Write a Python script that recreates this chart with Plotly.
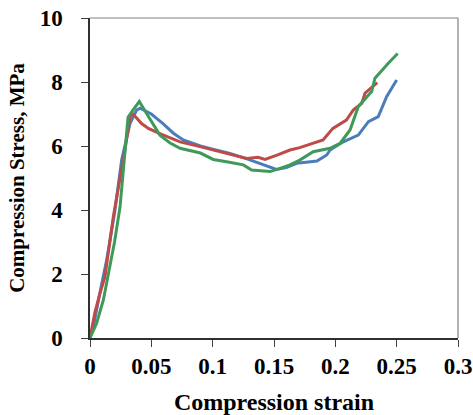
import plotly.graph_objects as go

blue_x = [0.0, 0.0027, 0.0080, 0.0136, 0.0200, 0.0258, 0.0326, 0.0380, 0.0408, 0.0500, 0.0595, 0.0680, 0.0760, 0.0900, 0.1000, 0.1140, 0.1280, 0.1410, 0.1520, 0.1600, 0.1685, 0.1780, 0.1850, 0.1930, 0.1957, 0.2065, 0.2187, 0.2270, 0.2350, 0.2418, 0.2500]
blue_y = [0.0, 0.35, 1.40, 2.44, 3.90, 5.56, 6.70, 7.12, 7.18, 7.00, 6.70, 6.40, 6.19, 6.00, 5.90, 5.77, 5.60, 5.41, 5.27, 5.33, 5.46, 5.50, 5.53, 5.72, 5.875, 6.13, 6.34, 6.76, 6.92, 7.54, 8.06]

red_x = [0.0, 0.0040, 0.0082, 0.0122, 0.0190, 0.0240, 0.0285, 0.0326, 0.0353, 0.0420, 0.0476, 0.0560, 0.0734, 0.0897, 0.1005, 0.1150, 0.1277, 0.1370, 0.1427, 0.1530, 0.1630, 0.1710, 0.1820, 0.1900, 0.1980, 0.2090, 0.2146, 0.2215, 0.2242, 0.2342]
red_y = [0.0, 0.80, 1.40, 1.92, 3.79, 4.90, 5.87, 6.92, 6.99, 6.70, 6.55, 6.40, 6.13, 5.98, 5.875, 5.75, 5.61, 5.65, 5.58, 5.72, 5.875, 5.95, 6.08, 6.19, 6.55, 6.81, 7.12, 7.33, 7.65, 7.98]

green_x = [0.0, 0.0054, 0.0109, 0.0163, 0.0200, 0.0245, 0.0285, 0.0310, 0.0350, 0.0402, 0.0480, 0.0570, 0.0650, 0.0734, 0.0900, 0.1005, 0.1125, 0.1250, 0.1318, 0.1400, 0.1467, 0.1550, 0.1630, 0.1710, 0.1820, 0.1957, 0.2038, 0.2120, 0.2187, 0.2296, 0.2323, 0.2430, 0.2508]
green_y = [0.0, 0.46, 1.19, 2.23, 3.00, 4.10, 5.98, 6.90, 7.12, 7.39, 6.90, 6.34, 6.10, 5.93, 5.78, 5.58, 5.50, 5.41, 5.25, 5.22, 5.20, 5.30, 5.41, 5.56, 5.82, 5.93, 6.08, 6.50, 7.23, 7.70, 8.12, 8.58, 8.89]

x_ticks = [0, 0.05, 0.1, 0.15, 0.2, 0.25, 0.3]
x_tick_labels = ["0", "0.05", "0.1", "0.15", "0.2", "0.25", "0.3"]
y_ticks = [0, 2, 4, 6, 8, 10]

font_family = "Liberation Serif"

fig = go.Figure()
for xs, ys, col in [(blue_x, blue_y, "#4a7ebb"), (red_x, red_y, "#be4b48"), (green_x, green_y, "#3f9a5a")]:
    fig.add_trace(go.Scatter(x=xs, y=ys, mode="lines", line=dict(color=col, width=3),
                             showlegend=False, hoverinfo="skip"))

fig.update_layout(
    width=473, height=415,
    margin=dict(l=90, r=15, t=18, b=77),
    paper_bgcolor="white", plot_bgcolor="white",
    font=dict(family=font_family, color="black"),
    xaxis=dict(range=[0, 0.3], tickvals=x_ticks, ticktext=x_tick_labels, automargin=False,
               ticks="outside", ticklen=7, tickcolor="#404040", tickwidth=1, ticklabelstandoff=0,
               showline=True, linecolor="#303030", linewidth=1.5,
               showgrid=False, zeroline=False,
               tickfont=dict(family=font_family, size=23, color="black", weight="bold"),
               title=dict(text="<b>Compression strain</b>", font=dict(family=font_family, size=24, color="black"), standoff=16)),
    yaxis=dict(range=[0, 10], tickvals=y_ticks, automargin=False,
               ticks="outside", ticklen=7, tickcolor="#404040", tickwidth=1, ticklabelstandoff=14,
               showline=True, linecolor="#303030", linewidth=1.5,
               showgrid=False, zeroline=False,
               tickfont=dict(family=font_family, size=23, color="black", weight="bold"),
               title=dict(text="<b>Compression Stress, MPa</b>", font=dict(family=font_family, size=21, color="black"), standoff=9)),
    shapes=[
        dict(type="line", xref="paper", yref="paper", x0=0, x1=1, y0=1, y1=1, line=dict(color="#808080", width=1.2)),
        dict(type="line", xref="paper", yref="paper", x0=1, x1=1, y0=0, y1=1, line=dict(color="#808080", width=1.2)),
    ],
)

fig.write_html("out.html", config={"displayModeBar": False},
               post_script="document.body.style.margin='0';document.body.style.overflow='hidden';")
